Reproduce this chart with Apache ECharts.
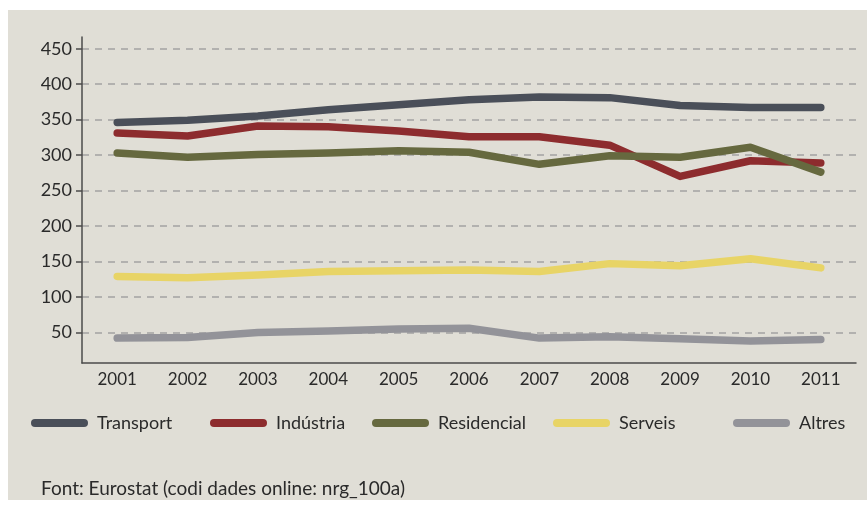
<!DOCTYPE html>
<html>
<head>
<meta charset="utf-8">
<script src="https://cdn.jsdelivr.net/npm/echarts@6/dist/echarts.min.js"></script>
<style>
  html, body { margin: 0; padding: 0; background: #ffffff; }
  #chart {
    position: absolute;
    left: 8px;
    top: 10px;
    width: 859px;
    height: 490px;
    background: #e0ded6;
  }
</style>
</head>
<body>
<div id="chart"></div>
<script>
// anys
const years = ['2001', '2002', '2003', '2004', '2005', '2006', '2007', '2008', '2009', '2010', '2011'];
const yTicks = [50, 100, 150, 200, 250, 300, 350, 400, 450];

// dades per sector
const transport = [346, 349, 355, 364, 371, 378, 382, 381, 370, 367, 367];
const industria = [331, 327, 341, 340, 334, 326, 326, 314, 270, 292, 289];
const residencial = [303, 297, 301, 303, 306, 304, 287, 299, 297, 311, 276];
const serveis = [129, 127, 131, 136, 137, 138, 136, 147, 144, 154, 141];
const altres = [42, 43, 50, 52, 55, 56, 42, 44, 41, 38, 40];

const sectorNames = ['Transport', 'Indústria', 'Residencial', 'Serveis', 'Altres'];
const sectorColors = ['#4a4f59', '#8d2c2e', '#66693f', '#e8d466', '#939399'];
const sectorData = [transport, industria, residencial, serveis, altres];

const fontFamily = 'Lato, "Open Sans", sans-serif';
const legendLeft = [23, 202, 364, 545, 725];

let chartDom = document.getElementById('chart');
let myChart = echarts.init(chartDom, null, { renderer: 'canvas' });
let option;

const legendIcon = 'path://M4 0H53A4 4 0 0 1 53 8H4A4 4 0 0 1 4 0Z';

option = {
  backgroundColor: '#e0ded6',
  animation: false,
  title: {
    text: 'Font: Eurostat (codi dades online: nrg_100a)',
    left: 33,
    top: 469,
    padding: 0,
    textStyle: {
      fontFamily: fontFamily,
      fontWeight: 'normal',
      fontSize: 19,
      color: '#2a2a2a'
    }
  },
  legend: sectorNames.map((name, i) => ({
    data: [name],
    left: legendLeft[i],
    top: 404,
    padding: 0,
    icon: legendIcon,
    itemWidth: 57,
    itemHeight: 8,
    textStyle: {
      fontFamily: fontFamily,
      fontSize: 18,
      color: '#2a2a2a',
      padding: [0, 0, 0, 4]
    }
  })),
  grid: {
    left: 74,
    top: 27,
    width: 774,
    height: 326,
    containLabel: false
  },
  xAxis: {
    type: 'category',
    data: years,
    boundaryGap: true,
    axisLine: { lineStyle: { color: '#4b4b4b', width: 1.5 } },
    axisTick: { show: false },
    axisLabel: {
      margin: 8,
      fontFamily: fontFamily,
      fontSize: 17,
      color: '#2a2a2a'
    }
  },
  yAxis: {
    type: 'value',
    min: 6.9,
    max: 466.5,
    axisLine: { show: true, lineStyle: { color: '#4b4b4b', width: 1.5 } },
    axisTick: {
      show: true,
      length: 6,
      customValues: yTicks,
      lineStyle: { color: '#4b4b4b', width: 1.5 }
    },
    axisLabel: {
      customValues: yTicks,
      margin: 10,
      fontFamily: fontFamily,
      fontSize: 18,
      color: '#2a2a2a'
    },
    splitLine: {
      show: true,
      lineStyle: { color: '#a3a3a3', type: [7, 6], width: 1.5 }
    }
  },
  series: sectorNames.map((name, i) => ({
    name: name,
    type: 'line',
    data: sectorData[i],
    symbol: 'none',
    color: sectorColors[i],
    lineStyle: { width: 7.5, color: sectorColors[i], cap: 'round', join: 'round' },
    emphasis: { disabled: true }
  }))
};

option && myChart.setOption(option);
</script>
</body>
</html>
